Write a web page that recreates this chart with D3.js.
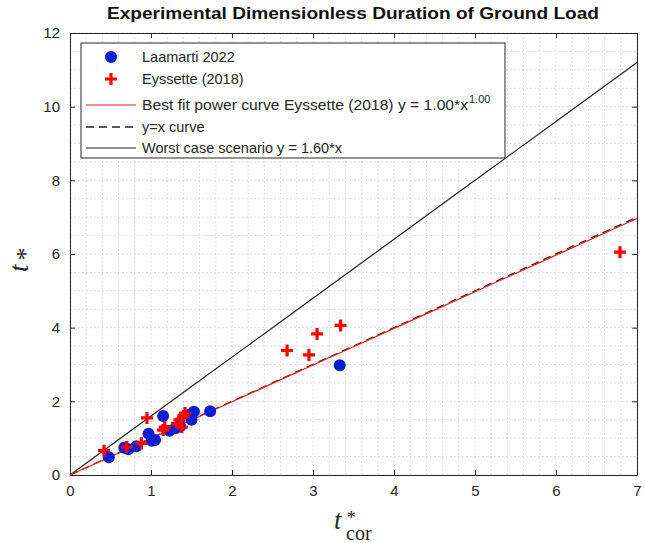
<!DOCTYPE html>
<html>
<head>
<meta charset="utf-8">
<script src="https://cdn.jsdelivr.net/npm/d3@7"></script>
<style>
  body { margin: 0; background: #fff; }
  text { font-family: "Liberation Sans", Arial, sans-serif; }
</style>
</head>
<body>
<script>
// data
const laamartiX = [0.48, 0.67, 0.72, 0.82, 0.97, 1.01, 1.05, 1.15, 1.23, 1.30, 1.36, 1.48, 1.50, 1.53, 1.73, 3.33];
const laamartiY = [0.48, 0.74, 0.70, 0.78, 1.12, 0.93, 0.95, 1.60, 1.20, 1.27, 1.32, 1.64, 1.50, 1.72, 1.73, 2.98];
const eyssetteX = [0.42, 0.70, 0.88, 0.95, 1.15, 1.17, 1.32, 1.35, 1.38, 1.40, 1.42, 2.68, 2.95, 3.05, 3.34, 6.79];
const eyssetteY = [0.66, 0.76, 0.86, 1.55, 1.22, 1.30, 1.40, 1.50, 1.30, 1.60, 1.68, 3.38, 3.26, 3.83, 4.06, 6.05];

const fitA = 0.995, fitB = 1.00;   // best fit y = a*x^b
const worstK = 1.60;               // worst case y = k*x
const curveX = [0, 0.5, 1, 1.5, 2, 2.5, 3, 3.5, 4, 4.5, 5, 5.5, 6, 6.5, 7];

const xTicks = [0, 1, 2, 3, 4, 5, 6, 7];
const yTicks = [0, 2, 4, 6, 8, 10, 12];

const legendLabels = ['Laamarti 2022', 'Eyssette (2018)', 'Best fit power curve Eyssette (2018) y = 1.00*x', 'y=x curve', 'Worst case scenario y = 1.60*x'];

const width = 645, height = 543;
const plotLeft = 70, plotRight = 637, plotTop = 33, plotBottom = 475;

const svg = d3.select('body').append('svg')
  .attr('width', width)
  .attr('height', height);

const x = d3.scaleLinear().domain([0, 7]).range([plotLeft, plotRight]);
const y = d3.scaleLinear().domain([0, 12]).range([plotBottom, plotTop]);

// grid (dotted, MATLAB style)
const xMinor = d3.range(0, 7.001, 0.2);
const yMinor = d3.range(0, 12.001, 0.5);
svg.append('g').selectAll('line').data(xMinor).enter().append('line')
  .attr('x1', d => x(d)).attr('x2', d => x(d))
  .attr('y1', plotTop).attr('y2', plotBottom)
  .attr('stroke', '#c8c8c8').attr('stroke-width', 0.8)
  .attr('stroke-dasharray', '1.5,2.5');
svg.append('g').selectAll('line').data(yMinor).enter().append('line')
  .attr('x1', plotLeft).attr('x2', plotRight)
  .attr('y1', d => y(d)).attr('y2', d => y(d))
  .attr('stroke', '#c8c8c8').attr('stroke-width', 0.8)
  .attr('stroke-dasharray', '1.5,2.5');

// axes with inward ticks on all four sides
function styleAxis(g) {
  g.select('.domain').attr('stroke', '#262626');
  g.selectAll('.tick line').attr('stroke', '#262626');
  g.selectAll('.tick text').attr('fill', '#262626')
    .style('font-size', '15px').style('font-family', '"Liberation Sans", Arial, sans-serif');
}
svg.append('g').attr('transform', `translate(0,${plotBottom})`)
  .call(d3.axisBottom(x).tickValues(xTicks).tickFormat(d3.format('d')).tickSize(-5).tickPadding(10).tickSizeOuter(0))
  .call(styleAxis);
svg.append('g').attr('transform', `translate(0,${plotTop})`)
  .call(d3.axisTop(x).tickValues(xTicks).tickSize(-5).tickFormat('').tickSizeOuter(0))
  .call(styleAxis);
svg.append('g').attr('transform', `translate(${plotLeft},0)`)
  .call(d3.axisLeft(y).tickValues(yTicks).tickFormat(d3.format('d')).tickSize(-5).tickPadding(10).tickSizeOuter(0))
  .call(styleAxis);
svg.append('g').attr('transform', `translate(${plotRight},0)`)
  .call(d3.axisRight(y).tickValues(yTicks).tickSize(-5).tickFormat('').tickSizeOuter(0))
  .call(styleAxis);

// curves
const line = d3.line().x(d => x(d[0])).y(d => y(d[1]));
svg.append('path')
  .attr('d', line(curveX.map(v => [v, worstK * v])))
  .attr('fill', 'none').attr('stroke', '#222').attr('stroke-width', 1.2);
svg.append('path')
  .attr('d', line(curveX.map(v => [v, v])))
  .attr('fill', 'none').attr('stroke', '#222').attr('stroke-width', 1.4)
  .attr('stroke-dasharray', '8,5');
svg.append('path')
  .attr('d', line(curveX.map(v => [v, fitA * Math.pow(v, fitB)])))
  .attr('fill', 'none').attr('stroke', '#ff1a1a').attr('stroke-width', 1.2);

// markers
const blue = '#0a1fd0';
const red = '#ff0000';
function cross(g, cx, cy, s) {
  g.append('path')
    .attr('d', `M${cx - s},${cy}H${cx + s}M${cx},${cy - s}V${cy + s}`)
    .attr('stroke', red).attr('stroke-width', 3.2).attr('fill', 'none');
}
svg.append('g').selectAll('circle')
  .data(laamartiX.map((v, i) => [v, laamartiY[i]]))
  .enter().append('circle')
  .attr('cx', d => x(d[0])).attr('cy', d => y(d[1]))
  .attr('r', 6).attr('fill', blue);
const crossG = svg.append('g');
eyssetteX.forEach((v, i) => cross(crossG, x(v), y(eyssetteY[i]), 6));

// legend
const lg = svg.append('g');
lg.append('rect')
  .attr('x', 81).attr('y', 43).attr('width', 424).attr('height', 115)
  .attr('fill', '#fff').attr('stroke', '#262626').attr('stroke-width', 1);
const rowY = [57, 79, 105, 127, 148];
lg.append('circle').attr('cx', 111).attr('cy', rowY[0]).attr('r', 6).attr('fill', blue);
cross(lg, 111, rowY[1], 6);
lg.append('line').attr('x1', 86).attr('x2', 136).attr('y1', rowY[2]).attr('y2', rowY[2])
  .attr('stroke', '#ff1a1a').attr('stroke-width', 1.2);
lg.append('line').attr('x1', 86).attr('x2', 136).attr('y1', rowY[3]).attr('y2', rowY[3])
  .attr('stroke', '#222').attr('stroke-width', 1.4).attr('stroke-dasharray', '8,5');
lg.append('line').attr('x1', 86).attr('x2', 136).attr('y1', rowY[4]).attr('y2', rowY[4])
  .attr('stroke', '#222').attr('stroke-width', 1.2);
legendLabels.forEach((t, i) => {
  const tx = lg.append('text')
    .attr('x', 142).attr('y', rowY[i] + 5)
    .attr('fill', '#262626').style('font-size', '14.5px')
    .text(t);
  if (i === 2) {
    // the TeX-interpreted entry is rendered wider in the original
    tx.attr('textLength', 326).attr('lengthAdjust', 'spacingAndGlyphs');
    lg.append('text')
      .attr('x', 469).attr('y', rowY[i] - 2)
      .attr('fill', '#262626').style('font-size', '11px')
      .text('1.00');
  }
});

// title
svg.append('text')
  .attr('x', 353).attr('y', 19)
  .attr('text-anchor', 'middle')
  .attr('textLength', 492).attr('lengthAdjust', 'spacingAndGlyphs')
  .style('font-size', '17px').style('font-weight', 'bold')
  .attr('fill', '#111')
  .text('Experimental Dimensionless Duration of Ground Load');

// axis labels (LaTeX-like)
const serif = '"Liberation Serif", "Times New Roman", serif';
const xl = svg.append('text').attr('x', 334).attr('y', 529)
  .attr('fill', '#262626').style('font-family', serif);
xl.append('tspan').style('font-style', 'italic').style('font-size', '27px').text('t');
xl.append('tspan').attr('dx', 5).attr('dy', -5).style('font-size', '19px').text('*');
xl.append('tspan').attr('dx', -10).attr('dy', 16).style('font-size', '20px').text('cor');

const yl = svg.append('text').attr('fill', '#262626')
  .attr('transform', 'translate(28,272) rotate(-90)')
  .style('font-family', serif);
yl.append('tspan').style('font-style', 'italic').style('font-size', '27px').text('t');
yl.append('tspan').attr('dx', 4).attr('dy', 6).style('font-size', '26px').text('*');
</script>
</body>
</html>
